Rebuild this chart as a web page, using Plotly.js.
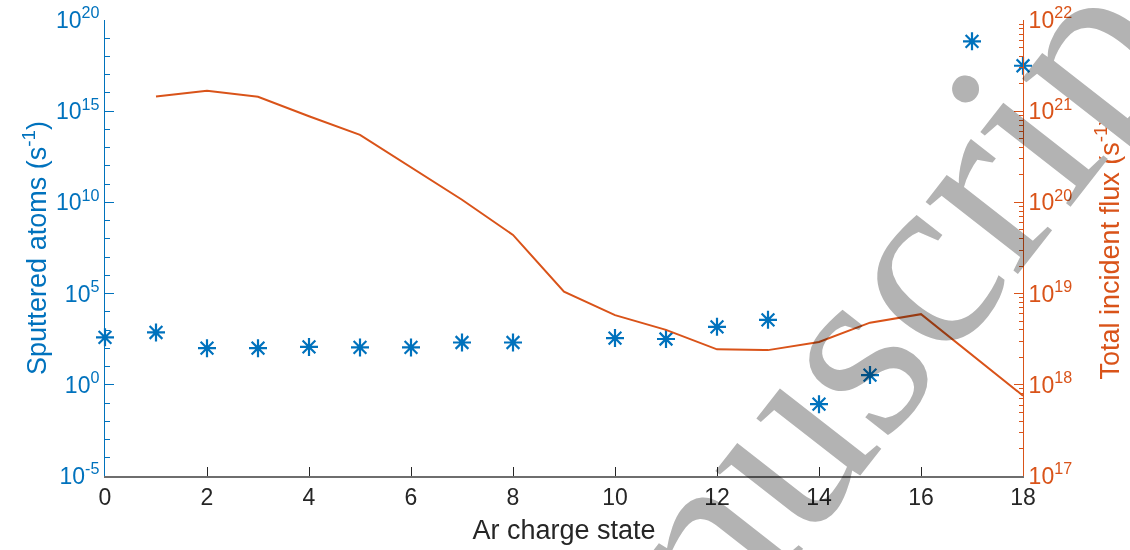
<!DOCTYPE html>
<html>
<head>
<meta charset="utf-8">
<script src="https://cdn.plot.ly/plotly-3.0.1.min.js"></script>
<style>
html,body{margin:0;padding:0;background:#fff;}
#chart{width:1130px;height:550px;}
.svg-container > svg.main-svg:nth-of-type(2){mix-blend-mode:multiply;}
</style>
</head>
<body>
<div id="chart"></div>
<script>
// ---- data ----
const chargeStates = [0,1,2,3,4,5,6,7,8,9,10,11,12,13,14,15,16,17,18];
const sputteredAtoms = [400, 740, 102, 102, 120, 112, 112, 209, 209, null, 363, 324, 1510, 3630, 0.087, 3.4, null, 6.8e18, 3.1e17];
const fluxStates = [1,2,3,4,5,6,7,8,9,10,11,12,13,14,15,16,17,18];
const totalFlux = [1.45e21, 1.68e21, 1.44e21, 8.8e20, 5.5e20, 2.4e20, 1.07e20, 4.4e19, 1.05e19, 5.8e18, 4.0e18, 2.45e18, 2.4e18, 2.95e18, 4.8e18, 5.95e18, 2.15e18, 7.6e17];
const xTickVals = [0,2,4,6,8,10,12,14,16,18];
const leftExponents = [-5,0,5,10,15,20];
const rightExponents = [17,18,19,20,21,22];
const watermarkText = 'Manuscript';

// ---- styles ----
const BLUE = 'rgb(0,114,189)';
const ORANGE = 'rgb(217,83,25)';
const DARK = 'rgb(38,38,38)';
const FONT = 'Liberation Sans, Arial, sans-serif';

const leftTickVals = leftExponents.map(e => Math.pow(10, e));
const leftTickText = leftExponents.map(e => '10<sup>' + e + '</sup>');
const leftMinor = [];
for (let e = -5; e <= 20; e++) leftMinor.push(Math.pow(10, e));
const rightTickVals = rightExponents.map(e => Math.pow(10, e));
const rightTickText = rightExponents.map(e => '10<sup>' + e + '</sup>');
const rightMinor = [];
for (let e = 17; e < 22; e++) for (let m = 2; m <= 9; m++) rightMinor.push(m * Math.pow(10, e));

const traces = [
  {
    x: chargeStates, y: sputteredAtoms, type: 'scatter', mode: 'markers', yaxis: 'y',
    marker: {symbol: 'asterisk-open', size: 15, color: BLUE, line: {color: BLUE, width: 2.2}},
    showlegend: false, cliponaxis: false
  },
  {
    x: fluxStates, y: totalFlux, type: 'scatter', mode: 'lines', yaxis: 'y2',
    line: {color: ORANGE, width: 2},
    showlegend: false
  }
];

const layout = {
  width: 1130, height: 550,
  margin: {l: 105, r: 107, t: 20, b: 74, pad: 0},
  paper_bgcolor: '#fff', plot_bgcolor: 'rgba(0,0,0,0)',
  font: {family: FONT, color: DARK},
  xaxis: {
    range: [0, 18], tickmode: 'array', tickvals: xTickVals,
    ticks: 'inside', ticklen: 9, tickwidth: 1, tickcolor: DARK,
    showline: true, linecolor: 'rgb(110,110,110)', linewidth: 1.5,
    showgrid: false, zeroline: false,
    tickfont: {size: 23, color: DARK, family: FONT},
    title: {text: 'Ar charge state', font: {size: 27, color: DARK, family: FONT}, standoff: 11}
  },
  yaxis: {
    type: 'log', range: [-5, 20], tickmode: 'array', tickvals: leftTickVals, ticktext: leftTickText,
    ticks: 'inside', ticklen: 9, tickwidth: 1, tickcolor: BLUE,
    minor: {tickmode: 'array', tickvals: leftMinor, ticks: 'inside', ticklen: 5, tickcolor: BLUE, showgrid: false},
    showline: true, linecolor: BLUE, linewidth: 1,
    showgrid: false, zeroline: false,
    tickfont: {size: 23, color: BLUE, family: FONT},
    title: {text: 'Sputtered atoms (s<sup>-1</sup>)', font: {size: 27, color: BLUE, family: FONT}, standoff: 1}
  },
  yaxis2: {
    type: 'log', range: [17, 22], overlaying: 'y', side: 'right', anchor: 'x',
    tickmode: 'array', tickvals: rightTickVals, ticktext: rightTickText,
    ticks: 'inside', ticklen: 9, tickwidth: 1, tickcolor: ORANGE,
    minor: {tickmode: 'array', tickvals: rightMinor, ticks: 'inside', ticklen: 4, tickcolor: ORANGE, showgrid: false},
    showline: true, linecolor: ORANGE, linewidth: 1,
    showgrid: false, zeroline: false,
    tickfont: {size: 23, color: ORANGE, family: FONT},
    title: {text: 'Total incident flux (s<sup>-1</sup>)', font: {size: 27, color: ORANGE, family: FONT}, standoff: 28}
  },
  annotations: [{
    text: watermarkText, xref: 'paper', yref: 'paper', x: 0.765, y: 0.158,
    xanchor: 'center', yanchor: 'middle', showarrow: false, textangle: -52,
    font: {family: 'Liberation Serif, Times New Roman, serif', size: 255, color: 'rgb(179,179,179)'}
  }]
};

Plotly.newPlot('chart', traces, layout, {displayModeBar: false, staticPlot: true});
</script>
</body>
</html>
